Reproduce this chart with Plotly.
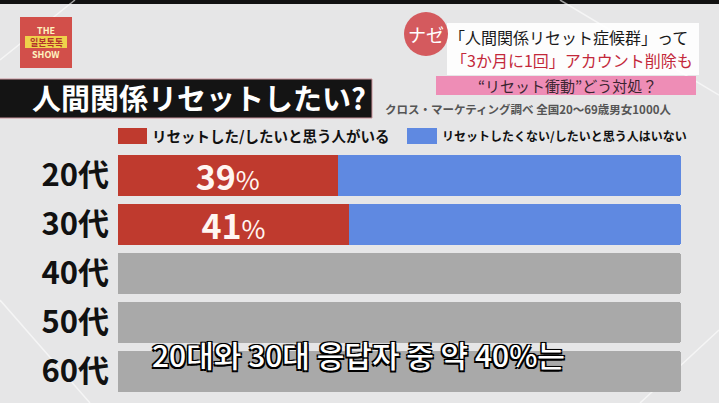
import plotly.graph_objects as go

# ---------------- data ----------------
ages = ["20代", "30代", "40代", "50代", "60代"]
want_reset = [39, 41, None, None, None]        # リセットした/したいと思う人がいる (%)
no_reset = [61, 59, None, None, None]          # リセットしたくない/したいと思う人はいない (%)
undisclosed = [None, None, 100, 100, 100]      # not yet revealed (grey)

legend_labels = ["リセットした/したいと思う人がいる", "リセットしたくない/したいと思う人はいない"]
title_text = "人間関係リセットしたい?"
source_text = "クロス・マーケティング調べ 全国20～69歳男女1000人"
subtitle_kr = "20대와 30대 응답자 중 약 40%는"

RED = "#bf3a2e"
BLUE = "#5f89e1"
GREY = "#a9a9a9"
JP = "Noto Sans CJK JP"
KR = "Noto Sans CJK KR"

# ---------------- layout geometry ----------------
W, H = 719, 403
L, R, T, B = 118, 38, 151, 7
PW, PH = W - L - R, H - T - B


def px(x):
    return (x - L) / PW


def py(y):
    return (H - B - y) / PH


def pct_text(v):
    if v is None:
        return ""
    return f"<b>{v}</b><span style='font-size:26px'>%</span>"


fig = go.Figure()
fig.add_trace(go.Bar(
    y=ages, x=want_reset, orientation="h", marker=dict(color=RED, line=dict(width=0)),
    text=[pct_text(v) for v in want_reset], textposition="inside",
    insidetextanchor="middle", textangle=0, constraintext="none", cliponaxis=False,
    textfont=dict(family=JP, size=34, color="#fff6f2"), name=legend_labels[0],
))
fig.add_trace(go.Bar(
    y=ages, x=no_reset, orientation="h", marker=dict(color=BLUE, line=dict(width=0)),
    name=legend_labels[1],
))
fig.add_trace(go.Bar(
    y=ages, x=undisclosed, orientation="h", marker=dict(color=GREY, line=dict(width=0)),
    name="未公開",
))

shapes = []
annotations = []

# top black strip
shapes.append(dict(type="rect", xref="paper", yref="paper", x0=px(0), x1=px(W), y0=py(0), y1=py(4),
                   fillcolor="#111111", line=dict(width=0), layer="below"))
# faint studio lines
for (xa, ya, xb, yb) in [(0, 60, 75, 0), (0, 300, 90, 403), (560, 0, 719, 95), (640, 403, 719, 330)]:
    shapes.append(dict(type="line", xref="paper", yref="paper", x0=px(xa), y0=py(ya), x1=px(xb), y1=py(yb),
                       line=dict(color="rgba(255,255,255,0.6)", width=1.5), layer="below"))

# logo
shapes.append(dict(type="rect", xref="paper", yref="paper", x0=px(20), x1=px(72), y0=py(17), y1=py(68),
                   fillcolor="#d24f4a", line=dict(width=0)))
shapes.append(dict(type="rect", xref="paper", yref="paper", x0=px(25), x1=px(67), y0=py(36), y1=py(48),
                   fillcolor="#efd24a", line=dict(width=0)))
annotations += [
    dict(text="<b>THE</b>", x=px(46), y=py(30), font=dict(family=JP, size=9, color="#fff4c0")),
    dict(text="<b>일본톡톡</b>", x=px(46), y=py(42), font=dict(family=KR, size=9, color="#b3322c")),
    dict(text="<b>SHOW</b>", x=px(46), y=py(55), font=dict(family=JP, size=9, color="#fff4c0")),
]

# title bar
shapes.append(dict(type="rect", xref="paper", yref="paper", x0=px(-2), x1=px(372), y0=py(79), y1=py(118),
                   fillcolor="#141414", line=dict(color="#c9929a", width=1)))
annotations.append(dict(text=f"<b>{title_text}</b>", x=px(199), y=py(97),
                        font=dict(family=JP, size=29, color="white")))

# right header panel
shapes.append(dict(type="rect", xref="paper", yref="paper", x0=px(447), x1=px(699), y0=py(23), y1=py(75),
                   fillcolor="rgba(255,255,255,0.92)", line=dict(width=0)))
shapes.append(dict(type="circle", xref="paper", yref="paper", x0=px(404), x1=px(448), y0=py(12), y1=py(56),
                   fillcolor="#d45a5e", line=dict(width=0)))
annotations += [
    dict(text="ナゼ", x=px(426), y=py(34), font=dict(family=JP, size=18, color="white")),
    dict(text="「人間関係リセット症候群」って", x=px(447), y=py(37), xanchor="left",
         font=dict(family=JP, size=16, color="#1a1a1a")),
    dict(text="「3か月に1回」アカウント削除も", x=px(449), y=py(60), xanchor="left",
         font=dict(family=JP, size=16, color="#c3283a")),
]
shapes.append(dict(type="rect", xref="paper", yref="paper", x0=px(436), x1=px(696), y0=py(76), y1=py(95),
                   fillcolor="#ee8db6", line=dict(width=0)))
annotations.append(dict(text="“リセット衝動”どう対処？", x=px(567), y=py(86),
                        font=dict(family=JP, size=15, color="#3a2530")))

# source
annotations.append(dict(text=f"<b>{source_text}</b>", x=px(383), y=py(109), xanchor="left",
                        font=dict(family=JP, size=11.5, color="#555555")))

# legend
shapes.append(dict(type="rect", xref="paper", yref="paper", x0=px(118), x1=px(147), y0=py(128), y1=py(144),
                   fillcolor=RED, line=dict(width=0)))
shapes.append(dict(type="rect", xref="paper", yref="paper", x0=px(407), x1=px(437), y0=py(128), y1=py(144),
                   fillcolor=BLUE, line=dict(width=0)))
annotations += [
    dict(text=f"<b>{legend_labels[0]}</b>", x=px(150), y=py(136), xanchor="left",
         font=dict(family=JP, size=14.5, color="#111111")),
    dict(text=f"<b>{legend_labels[1]}</b>", x=px(440), y=py(136), xanchor="left",
         font=dict(family=JP, size=12, color="#111111")),
]

# Korean subtitle
annotations.append(dict(text=subtitle_kr, x=px(150), y=py(354), xanchor="left",
                        font=dict(family=KR, size=30, color="white", weight=500,
                                  shadow="-1.5px -1.5px 0 #000, 1.5px -1.5px 0 #000, -1.5px 1.5px 0 #000, 1.5px 1.5px 0 #000, 0 0 2px #000")))

for a in annotations:
    a.setdefault("xref", "paper")
    a.setdefault("yref", "paper")
    a.setdefault("showarrow", False)
    a.setdefault("xanchor", "center")
    a.setdefault("yanchor", "middle")

fig.update_layout(
    width=W, height=H,
    margin=dict(l=L, r=R, t=T, b=B, pad=0),
    barmode="stack", bargap=8 / 49, barcornerradius=3,
    showlegend=False,
    paper_bgcolor="#e6e6e7", plot_bgcolor="rgba(0,0,0,0)",
    xaxis=dict(range=[0, 100], visible=False, fixedrange=True),
    yaxis=dict(categoryorder="array", categoryarray=ages, autorange="reversed",
               showgrid=False, zeroline=False, showline=False, ticks="",
               ticklabelstandoff=8, fixedrange=True,
               tickfont=dict(family=JP, size=31, color="#111111", weight="bold")),
    shapes=shapes, annotations=annotations,
)

fig.write_html("out.html", config={"displayModeBar": False},
               post_script="document.body.style.margin='0';document.body.style.overflow='hidden';")
